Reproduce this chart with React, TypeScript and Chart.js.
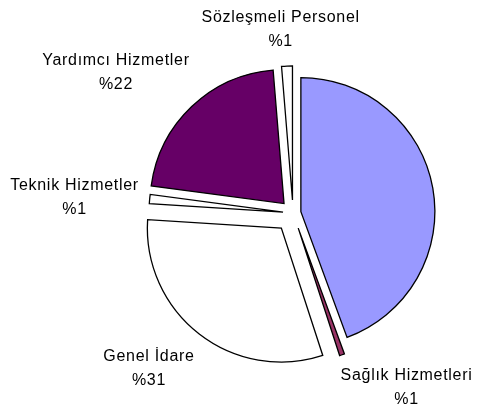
import React, { useEffect, useRef } from "react";
import { Chart, registerables } from "chart.js";

Chart.register(...registerables);

// ---- data ----
const categories = [
  "Diğer",
  "Sağlık Hizmetleri",
  "Genel İdare",
  "Teknik Hizmetler",
  "Yardımcı Hizmetler",
  "Sözleşmeli Personel",
];
const shares = [44.4, 0.6, 31.0, 1.1, 21.6, 1.3];
const showLabel = [false, true, true, true, true, true];

// ---- styles ----
const sliceColors = ["#9999FF", "#993366", "#FFFFFF", "#FFFFFF", "#660066", "#FFFFFF"];
const explodePx = [8, 16, 19, 10, 13, 13];
const labelDist = [0, 208, 212, 219, 226, 184];
const labelShiftDeg = [0, -14, 5, -1.5, -8, -1.5];

const FONT = '16px "Liberation Sans", Arial, sans-serif';

const explodePlugin = {
  id: "explodeAndLabels",
  beforeDatasetsDraw(chart: any) {
    const meta = chart.getDatasetMeta(0);
    const { left, right, top, bottom } = chart.chartArea;
    const cx = (left + right) / 2;
    const cy = (top + bottom) / 2;
    meta.data.forEach((arc: any, i: number) => {
      const mid = (arc.startAngle + arc.endAngle) / 2;
      arc.x = cx + Math.cos(mid) * explodePx[i];
      arc.y = cy + Math.sin(mid) * explodePx[i];
    });
  },
  afterDatasetsDraw(chart: any) {
    const ctx = chart.ctx;
    const meta = chart.getDatasetMeta(0);
    const { left, right, top, bottom } = chart.chartArea;
    const cx = (left + right) / 2;
    const cy = (top + bottom) / 2;
    ctx.save();
    ctx.font = FONT;
    ctx.fillStyle = "#000";
    ctx.textAlign = "center";
    ctx.textBaseline = "middle";
    try {
      (ctx as any).letterSpacing = "0.7px";
    } catch (e) {}
    meta.data.forEach((arc: any, i: number) => {
      if (!showLabel[i]) return;
      const mid = (arc.startAngle + arc.endAngle) / 2 + (labelShiftDeg[i] * Math.PI) / 180;
      const x = cx + Math.cos(mid) * labelDist[i];
      const y = cy + Math.sin(mid) * labelDist[i];
      ctx.fillText(categories[i], x, y - 11.5);
      ctx.fillText("%" + Math.round(shares[i]), x, y + 12);
    });
    ctx.restore();
  },
};

export default function App() {
  const ref = useRef<HTMLCanvasElement | null>(null);
  useEffect(() => {
    if (!ref.current) return;
    const chart = new Chart(ref.current, {
      type: "pie",
      data: {
        labels: categories,
        datasets: [
          {
            data: shares,
            backgroundColor: sliceColors,
            borderColor: "#000000",
            borderWidth: 1.3,
            borderJoinStyle: "miter",
          } as any,
        ],
      },
      options: {
        responsive: false,
        animation: false,
        events: [],
        radius: 134,
        layout: { padding: { left: 104, top: 14, right: 0, bottom: 0 } },
        plugins: {
          legend: { display: false },
          tooltip: { enabled: false },
          title: { display: false },
        },
      } as any,
      plugins: [explodePlugin],
    });
    return () => chart.destroy();
  }, []);
  return (
    <div style={{ position: "absolute", left: 0, top: 0, width: 482, height: 412, background: "#fff" }}>
      <canvas ref={ref} width={482} height={412} />
    </div>
  );
}
